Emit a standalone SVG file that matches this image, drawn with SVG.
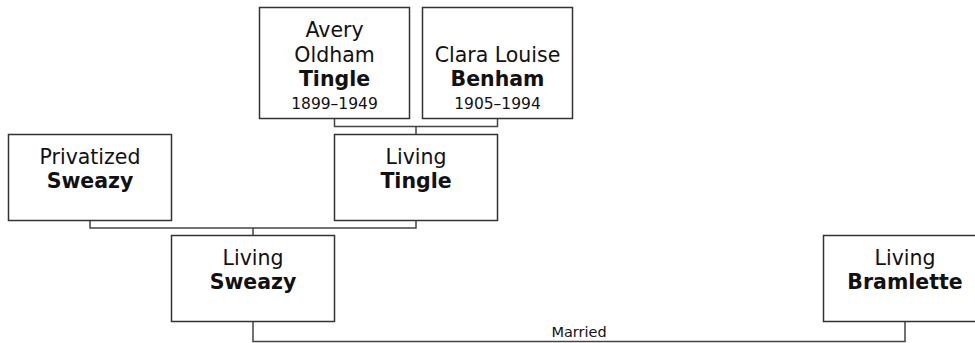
<svg xmlns="http://www.w3.org/2000/svg" width="975" height="343" viewBox="0 0 975 343">
<style>
.box{fill:#fff;stroke:#333;stroke-width:1.5}
.ln{fill:none;stroke:#444;stroke-width:1.5}
text{font-family:"DejaVu Sans",Verdana,sans-serif;fill:#111;text-anchor:middle}
.n{font-size:20.5px}
.b{font-size:20.5px;font-weight:bold}
.d{font-size:15.5px}
.m{font-size:14.5px}
</style>
<rect width="975" height="343" fill="#fff"/>
<g id="connectors">
<path class="ln" d="M334.5 118.5V126.5H497.5V118.5M416 126.5V134.5"/>
<path class="ln" d="M90 220.5V228H416V220.5M253 228V235.5"/>
<path class="ln" d="M253 321.5V341.5H905V321.5"/>
<text class="m" x="579" y="337">Married</text>
</g>
<g id="avery">
<rect class="box" x="259.5" y="7.5" width="150" height="111"/>
<text class="n" x="334.5" y="37">Avery</text>
<text class="n" x="334.5" y="62">Oldham</text>
<text class="b" x="334.5" y="86">Tingle</text>
<text class="d" x="334.5" y="109">1899–1949</text>
</g>
<g id="clara">
<rect class="box" x="422.5" y="7.5" width="150" height="111"/>
<text class="n" x="497.5" y="62">Clara Louise</text>
<text class="b" x="497.5" y="86">Benham</text>
<text class="d" x="497.5" y="109">1905–1994</text>
</g>
<g id="privatized">
<rect class="box" x="8.5" y="134.5" width="163" height="86"/>
<text class="n" x="90" y="164">Privatized</text>
<text class="b" x="90" y="188">Sweazy</text>
</g>
<g id="livingTingle">
<rect class="box" x="334.5" y="134.5" width="163" height="86"/>
<text class="n" x="416" y="164">Living</text>
<text class="b" x="416" y="188">Tingle</text>
</g>
<g id="livingSweazy">
<rect class="box" x="171.5" y="235.5" width="163" height="86"/>
<text class="n" x="253" y="265">Living</text>
<text class="b" x="253" y="289">Sweazy</text>
</g>
<g id="livingBramlette">
<rect class="box" x="823.5" y="235.5" width="163" height="86"/>
<text class="n" x="905" y="265">Living</text>
<text class="b" x="905" y="289">Bramlette</text>
</g>
</svg>
